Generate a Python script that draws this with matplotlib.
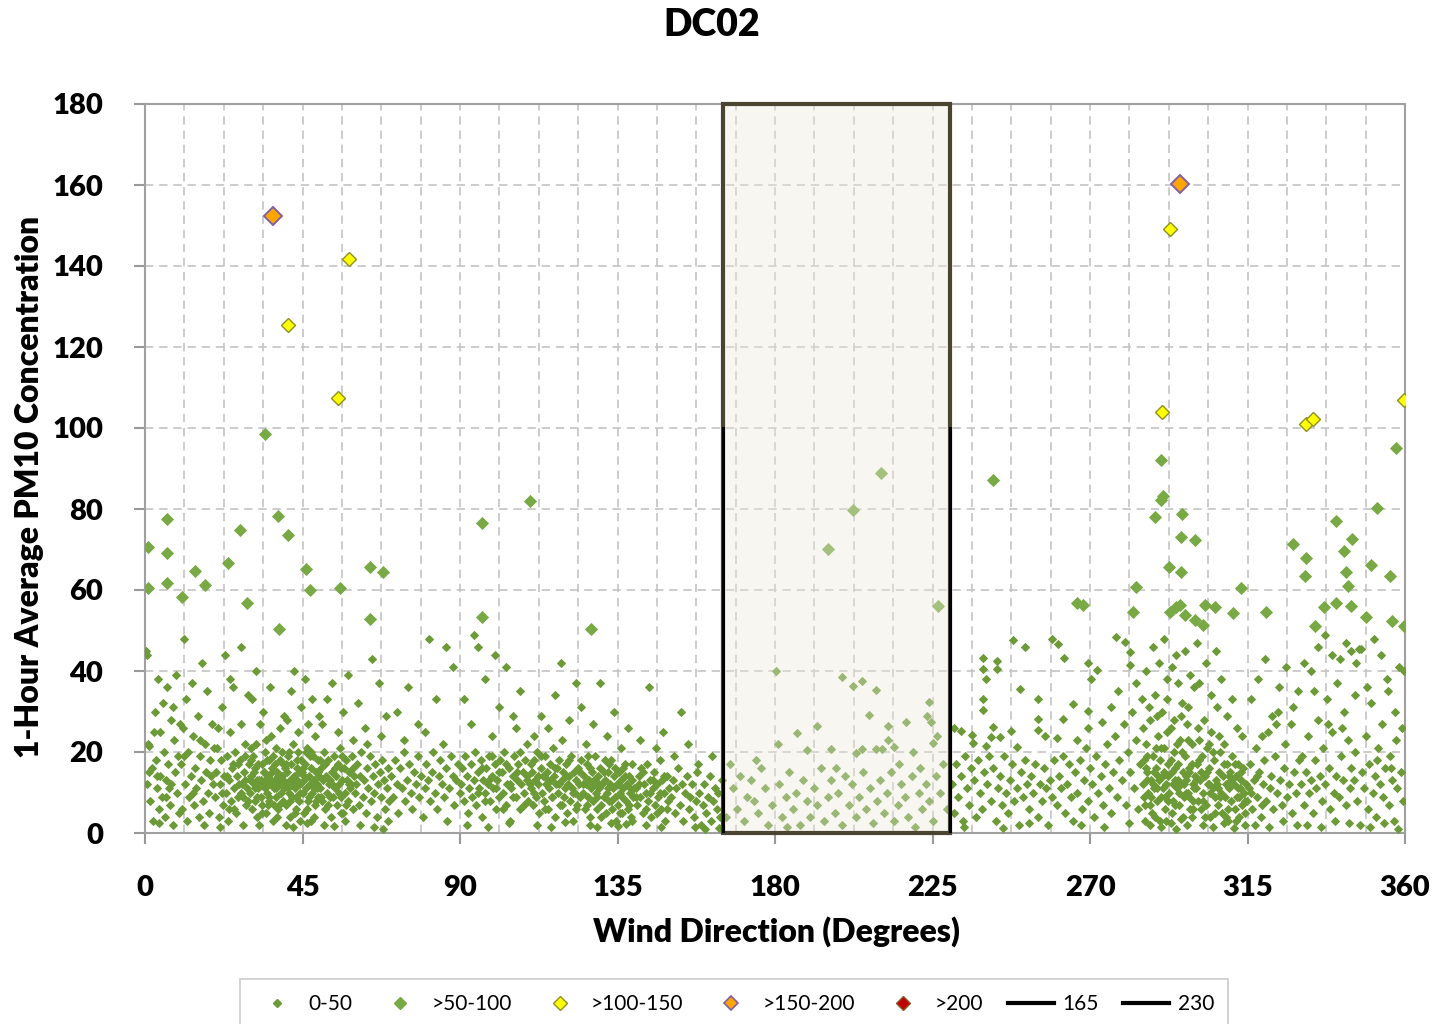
import matplotlib
matplotlib.use("Agg")
import matplotlib.pyplot as plt
from matplotlib.lines import Line2D
from matplotlib.patches import Rectangle

plt.rcParams['font.family'] = ['Lato', 'DejaVu Sans']

# ---------------- data ----------------
title = "DC02"
x_label = "Wind Direction (Degrees)"
y_label = "1-Hour Average PM10 Concentration"
x_ticks = [0, 45, 90, 135, 180, 225, 270, 315, 360]
y_ticks = [0, 20, 40, 60, 80, 100, 120, 140, 160, 180]
legend_labels = ["0-50", ">50-100", ">100-150", ">150-200", ">200", "165", "230"]
excluded_sector = [165, 230]   # wind directions of the shaded sector
sector_line_top = 100

# 0-50 concentration points, grouped by wind-direction band (degrees, conc.)
band_000_010 = [(0.5,12),(0.8,22),(1.2,21.5),(0.3,45),(0.6,44),(1.5,8),(2.1,16),(2.4,3),(2.8,30),(3.0,18),(3.3,11),(3.6,38),(3.9,6),(4.2,25),(4.4,14),(4.8,9),(5.1,32),(5.3,20),(5.7,4),(6.0,13),(6.4,36),(6.6,17),(7.0,7),(7.3,28),(7.5,12),(7.9,2),(8.2,23),(8.5,15),(8.8,39),(9.1,10),(9.4,19),(9.7,5),(1.1,15),(2.6,25),(4.0,2.5),(5.9,9),(8.0,31),(9.9,27),(6.9,11),(3.4,14)]
band_010_020 = [(10.2,17),(10.5,6),(10.8,26),(11.1,48),(11.4,12),(11.8,33),(12.0,3),(12.3,20),(12.6,9),(13.0,14),(13.3,37),(13.6,24),(14.0,7),(14.3,16),(14.6,11),(15.0,29),(15.3,4),(15.6,19),(16.0,13),(16.3,42),(16.6,8),(17.0,22),(17.3,15),(17.7,35),(18.0,10),(18.4,5),(18.7,18),(19.0,27),(19.4,12),(19.7,21),(11.0,19),(13.8,10),(16.8,2),(18.9,14),(15.8,23)]
band_020_030 = [(20.1,9),(20.4,15),(20.7,21),(21.0,4),(21.3,12),(21.6,18),(21.9,31),(22.2,7),(22.5,14),(22.8,44),(23.1,10),(23.4,19),(23.7,3),(24.0,13),(24.3,25),(24.6,8),(24.9,16),(25.2,36),(25.5,11),(25.8,20),(26.1,5),(26.4,14),(26.7,9),(27.0,18),(27.3,27),(27.6,12),(27.9,2),(28.2,15),(28.5,22),(28.8,7),(29.1,11),(29.4,34),(29.7,17),(20.9,26),(22.0,10),(23.9,6),(25.0,17),(26.9,12),(28.0,9),(29.9,13),(21.5,1.5),(24.4,38),(27.4,46),(28.7,19),(23.3,14)]
band_030_040 = [(30.0,10),(30.3,14),(30.5,6),(30.8,19),(31.0,12),(31.3,8),(31.5,16),(31.8,22),(32.0,4),(32.3,11),(32.5,13),(32.8,27),(33.0,9),(33.3,17),(33.5,7),(33.8,12),(34.0,15),(34.3,20),(34.5,5),(34.8,10),(35.0,14),(35.3,18),(35.5,8),(35.8,12),(36.0,24),(36.3,16),(36.5,3),(36.8,11),(37.0,13),(37.3,9),(37.5,21),(37.8,15),(38.0,6),(38.3,12),(38.5,18),(38.8,10),(39.0,14),(39.3,8),(39.5,17),(39.8,11),(30.6,33),(31.7,40),(32.7,2),(33.6,30),(34.6,23),(35.6,36),(36.6,19),(37.6,4),(38.6,26),(39.6,29),(31.2,15),(32.1,9),(33.1,13),(34.2,11),(35.1,7),(36.1,13),(37.1,17),(38.2,14),(39.1,20),(30.2,18)]
band_040_050 = [(40.0,12),(40.3,7),(40.5,15),(40.8,19),(41.0,10),(41.3,13),(41.5,4),(41.8,17),(42.0,9),(42.3,22),(42.5,14),(42.8,11),(43.0,6),(43.3,16),(43.5,13),(43.8,20),(44.0,8),(44.3,12),(44.5,18),(44.8,15),(45.0,10),(45.3,5),(45.5,13),(45.8,17),(46.0,11),(46.3,21),(46.5,8),(46.8,14),(47.0,12),(47.3,16),(47.5,3),(47.8,10),(48.0,19),(48.3,13),(48.5,7),(48.8,15),(49.0,11),(49.3,18),(49.5,9),(49.8,14),(40.6,28),(41.6,35),(42.6,40),(43.6,25),(44.6,31),(45.6,38),(46.6,27),(47.6,33),(48.6,24),(49.6,29),(40.2,2),(42.2,1.5),(44.2,3),(46.2,2.5),(48.2,4),(41.2,20),(43.2,9),(45.2,16),(47.2,19),(49.2,12)]
band_050_060 = [(50.0,11),(50.3,16),(50.6,8),(50.9,13),(51.2,20),(51.5,6),(51.8,14),(52.1,10),(52.4,18),(52.7,12),(53.0,4),(53.3,15),(53.6,9),(53.9,19),(54.2,11),(54.5,14),(54.8,7),(55.1,17),(55.4,12),(55.7,21),(56.0,9),(56.3,13),(56.6,5),(56.9,16),(57.2,10),(57.5,18),(57.8,13),(58.1,8),(58.4,15),(58.7,11),(59.0,19),(59.3,6),(59.6,14),(59.9,10),(50.5,27),(52.0,33),(53.5,37),(55.0,25),(56.5,30),(58.0,39),(59.5,23),(51.0,2),(54.0,1.8),(57.0,3),(52.9,9),(55.9,16),(58.9,12)]
band_060_070 = [(60.2,12),(60.6,17),(61.0,7),(61.4,14),(61.8,20),(62.2,9),(62.6,13),(63.0,5),(63.4,16),(63.8,11),(64.2,19),(64.6,8),(65.0,14),(65.4,10),(65.8,17),(66.2,4),(66.6,12),(67.0,15),(67.4,9),(67.8,18),(68.2,13),(68.6,6),(69.0,11),(69.4,16),(69.8,8),(60.9,32),(62.9,26),(64.9,43),(66.9,37),(68.9,29),(63.3,22),(67.5,24),(61.5,2),(65.5,1.5),(69.5,3),(68.0,1)]
band_070_090 = [(70.4,14),(70.9,9),(71.4,18),(71.9,12),(72.4,5),(72.9,16),(73.4,11),(73.9,20),(74.4,8),(74.9,13),(75.4,17),(75.9,10),(76.4,6),(76.9,15),(77.4,12),(77.9,19),(78.4,9),(78.9,14),(79.4,4),(79.9,11),(80.4,17),(80.9,13),(81.4,8),(81.9,15),(82.4,20),(82.9,10),(83.4,6),(83.9,14),(84.4,18),(84.9,12),(85.4,9),(85.9,16),(86.4,3),(86.9,11),(87.4,19),(87.9,14),(88.4,7),(88.9,13),(89.4,17),(89.9,10),(72.0,30),(75.0,36),(78.0,27),(81.0,48),(83.0,33),(86.0,46),(88.0,41),(74.0,23),(80.0,25),(85.0,22)]
band_090_110 = [(90.3,12),(90.7,16),(91.1,8),(91.5,19),(91.9,14),(92.3,5),(92.7,11),(93.1,17),(93.5,9),(93.9,13),(94.3,20),(94.7,7),(95.1,15),(95.5,11),(95.9,18),(96.3,4),(96.7,13),(97.1,10),(97.5,16),(97.9,12),(98.3,19),(98.7,8),(99.1,14),(99.5,11),(99.9,17),(100.3,6),(100.7,13),(101.1,9),(101.5,18),(101.9,15),(102.3,10),(102.7,20),(103.1,7),(103.5,12),(103.9,16),(104.3,3),(104.7,11),(105.1,14),(105.5,19),(105.9,9),(106.3,13),(106.7,17),(107.1,6),(107.5,12),(107.9,15),(108.3,10),(108.7,18),(109.1,14),(109.5,8),(109.9,12),(91.0,33),(93.0,27),(95.0,46),(97.0,38),(99.0,24),(101.0,31),(103.0,41),(105.0,29),(107.0,35),(109.0,22),(94.0,49),(100.0,44),(106.0,26),(92.0,2),(98.0,1.5),(104.0,2.5)]
band_110_125 = [(110.3,11),(110.6,15),(110.9,7),(111.2,18),(111.5,13),(111.8,9),(112.1,20),(112.4,12),(112.7,5),(113.0,16),(113.3,10),(113.6,14),(113.9,8),(114.2,19),(114.5,12),(114.8,15),(115.1,6),(115.4,11),(115.7,17),(116.0,13),(116.3,9),(116.6,21),(116.9,14),(117.2,4),(117.5,12),(117.8,16),(118.1,10),(118.4,18),(118.7,7),(119.0,13),(119.3,15),(119.6,9),(119.9,11),(120.2,17),(120.5,5),(120.8,12),(121.1,14),(121.4,8),(121.7,19),(122.0,11),(122.3,3),(122.6,15),(122.9,10),(123.2,13),(123.5,7),(123.8,16),(124.1,12),(124.4,9),(124.7,18),(111.0,24),(113.0,29),(115.0,26),(117.0,34),(119.0,23),(121.0,28),(123.0,37),(124.5,31),(112.0,2),(116.0,1.5),(120.0,2.8),(118.9,42)]
band_125_140 = [(125.0,10),(125.3,14),(125.6,6),(125.9,12),(126.2,17),(126.5,9),(126.8,13),(127.1,4),(127.4,11),(127.7,15),(128.0,8),(128.3,12),(128.6,19),(128.9,10),(129.2,6),(129.5,14),(129.8,11),(130.1,16),(130.4,7),(130.7,12),(131.0,9),(131.3,13),(131.6,5),(131.9,10),(132.2,15),(132.5,8),(132.8,12),(133.1,18),(133.4,6),(133.7,11),(134.0,14),(134.3,9),(134.6,3),(134.9,12),(135.2,7),(135.5,15),(135.8,10),(136.1,13),(136.4,5),(136.7,11),(137.0,17),(137.3,8),(137.6,12),(137.9,6),(138.2,14),(138.5,10),(138.8,4),(139.1,13),(139.4,9),(139.7,11),(126.0,22),(128.0,27),(130.0,37),(132.0,24),(134.0,30),(136.0,21),(138.0,26),(127.0,2),(129.0,1.5),(133.0,2.5),(135.0,1.8),(137.5,2.2),(139.0,3),(131.5,18),(136.5,16)]
band_140_150 = [(140.2,11),(140.6,7),(141.0,14),(141.4,9),(141.8,16),(142.2,5),(142.6,12),(143.0,10),(143.4,17),(143.8,8),(144.2,13),(144.6,4),(145.0,11),(145.4,15),(145.8,7),(146.2,12),(146.6,9),(147.0,18),(147.4,6),(147.8,13),(148.2,10),(148.6,3),(149.0,14),(149.4,8),(149.8,11),(141.5,23),(144.0,36),(146.0,21),(148.0,25),(143.0,2),(147.5,1.5)]
band_150_165 = [(150.3,9),(150.8,13),(151.3,5),(151.8,11),(152.3,16),(152.8,7),(153.3,12),(153.8,3),(154.3,10),(154.8,14),(155.3,6),(155.8,9),(156.3,12),(156.8,4),(157.3,8),(157.8,15),(158.3,10),(158.8,2),(159.3,7),(159.8,12),(160.3,5),(160.8,9),(161.3,14),(161.8,3),(162.3,8),(162.8,11),(163.3,6),(163.8,10),(164.3,4),(164.8,13),(151.0,19),(155.0,22),(158.0,17),(162.0,19),(153.0,30),(157.0,1.5),(160.0,1),(164.0,1.2)]
band_165_230 = [(180.3,40),(199,38.5),(202.3,36.3),(204.9,37.5),(208.9,35.3),(224,32.3),(223.4,29),(224.5,27.4),(206.9,29.1),(217.4,27.4),(212.3,26.4),(192,26.4),(186.3,24.7),(180.9,22),(189.1,20.5),(196,20.7),(203.1,19.7),(204.9,20.7),(208.9,20.7),(210.5,20.7),(212.3,23),(214,21.2),(219.4,20),(226.3,24),(225.1,22.2),(167,17),(168,11),(169,6),(170,14),(171,3),(172,9),(173,13),(174,8),(175,5),(176,16),(177,11),(178,2),(179,7),(181,12),(182,4),(183,9),(184,15),(185,6),(186,10),(187,2),(188,13),(189,8),(190,4),(191,11),(192,7),(193,16),(194,3),(195,9),(196,13),(197,5),(198,10),(199,2),(200,14),(201,7),(202,12),(203,4),(204,9),(205,15),(206,6),(207,11),(208,2.5),(209,8),(210,13),(211,5),(212,10),(213,15),(214,3),(215,7),(216,12),(217,9),(218,4),(219,14),(220,1.5),(221,10),(222,6),(223,12),(224,8),(225,3),(226,14),(227,10),(228,17),(229,6),(166,4),(174.5,18),(183.5,1.5),(197.5,16),(215.5,17),(221.5,16)]
band_230_260 = [(231.1,25.9),(233.1,25.2),(236.3,24.2),(236.6,22.2),(239.4,43.2),(243.4,42.5),(239.4,40.5),(243.4,40.5),(240.3,38),(239.4,33),(239.4,30.4),(241.7,23.7),(244.3,23.7),(240.3,21.5),(242.3,26.2),(247.4,25.2),(248,47.6),(250,35.6),(249.1,21.2),(251.4,46),(255.1,33),(255.1,28.1),(255.1,25.4),(257.1,24),(259,48),(260.9,46.6),(260.6,23.5),(230.5,12),(231,5),(231.8,17),(232.4,9),(233,14),(233.6,3),(234.2,19),(234.8,11),(235.4,7),(236,16),(236.8,13),(237.4,4),(238,18),(238.6,10),(239.2,6),(239.8,15),(240.5,12),(241.2,19),(241.8,8),(242.4,16),(243,3),(243.6,11),(244.2,14),(244.8,7),(245.4,19),(246,10),(246.6,5),(247.2,13),(247.8,17),(248.4,8),(249,11),(249.6,2),(250.2,15),(250.8,9),(251.4,18),(252,12),(252.6,6),(253.2,14),(253.8,10),(254.4,17),(255,4),(255.6,12),(256.2,8),(256.8,16),(257.4,11),(258,2),(258.6,13),(259.2,9),(259.8,18),(234,1.5),(245,1.2),(252.5,2.5)]
band_260_285 = [(262.6,43.2),(262.3,28.1),(265,31.9),(266.3,23),(269.4,42),(270.3,38),(269.4,30.1),(269.4,25.9),(272,40.2),(273.4,27.4),(277.4,48.4),(280,47.2),(281.4,44.7),(281.4,41.5),(260.5,7),(261,14),(261.6,11),(262.2,19),(262.8,5),(263.4,12),(264,17),(264.6,9),(265.2,3),(265.8,15),(266.4,10),(267,18),(267.6,6),(268.2,13),(268.8,21),(269.4,8),(270,16),(270.6,12),(271.2,4),(271.8,19),(272.4,10),(273,14),(273.6,7),(274.2,17),(274.8,22),(275.4,11),(276,5),(276.6,15),(277.2,24),(277.8,9),(278.4,18),(279,13),(279.6,27),(280.2,7),(280.8,20),(281.4,15),(282,30),(282.6,11),(283.2,23),(283.8,6),(284.4,17),(284.8,33),(278,35),(276,31),(283,37),(285,26),(274,1.5),(267.5,2),(281,2.5)]
band_285_300 = [(285.2,12),(285.5,18),(285.8,7),(286.1,22),(286.4,15),(286.7,10),(287.0,28),(287.3,13),(287.6,5),(287.9,19),(288.2,11),(288.5,34),(288.8,16),(289.1,8),(289.4,24),(289.7,13),(290.0,18),(290.3,9),(290.6,30),(290.9,14),(291.2,21),(291.5,6),(291.8,12),(292.1,38),(292.4,17),(292.7,10),(293.0,26),(293.3,15),(293.6,8),(293.9,20),(294.2,13),(294.5,44),(294.8,11),(295.1,17),(295.4,7),(295.7,23),(296.0,12),(296.3,32),(296.6,15),(296.9,9),(297.2,19),(297.5,13),(297.8,27),(298.1,10),(298.4,16),(298.7,6),(299.0,22),(299.3,12),(299.6,36),(299.9,14),(285.6,3),(287.1,2),(288.6,4),(290.2,1.5),(291.6,3),(293.1,2.5),(294.6,1),(296.1,3.5),(297.6,2),(299.1,4),(286.0,40),(288.0,46),(289.8,42),(291.0,48),(293.4,41),(295.0,37),(297.0,45),(298.5,39),(286.9,31),(289.0,29),(292.0,33),(294.0,28),(295.9,29),(298.0,31),(285.9,16),(287.5,9),(289.3,14),(290.8,11),(292.3,8),(293.8,12),(295.3,10),(296.8,12),(298.3,9),(299.8,11),(286.3,13),(288.0,12),(291.0,15),(294.2,16),(297.3,14),(299.2,17)]
band_300_315 = [(300.2,11),(300.5,17),(300.8,8),(301.1,23),(301.4,13),(301.7,6),(302.0,19),(302.3,10),(302.6,28),(302.9,14),(303.2,7),(303.5,21),(303.8,12),(304.1,16),(304.4,4),(304.7,25),(305.0,11),(305.3,18),(305.6,9),(305.9,13),(306.2,31),(306.5,7),(306.8,15),(307.1,20),(307.4,10),(307.7,5),(308.0,14),(308.3,22),(308.6,9),(308.9,12),(309.2,17),(309.5,3),(309.8,11),(310.1,15),(310.4,8),(310.7,19),(311.0,12),(311.3,6),(311.6,14),(311.9,9),(312.2,17),(312.5,4),(312.8,11),(313.1,13),(313.4,7),(313.7,16),(314.0,10),(314.3,5),(314.6,12),(314.9,8),(301.0,37),(303.0,42),(304.5,34),(306.0,45),(307.5,38),(309.0,29),(310.5,33),(312.0,26),(313.5,24),(300.6,47),(302.4,2),(305.2,1.5),(308.2,2.5),(311.2,1.2),(314.2,2),(301.8,15),(304.0,12),(306.6,11),(309.6,14),(312.6,9)]
band_315_330 = [(315.3,11),(315.8,17),(316.3,6),(316.8,13),(317.3,21),(317.8,9),(318.3,15),(318.8,4),(319.3,12),(319.8,18),(320.3,8),(320.8,25),(321.3,11),(321.8,14),(322.3,6),(322.8,19),(323.3,10),(323.8,30),(324.3,13),(324.8,7),(325.3,16),(325.8,22),(326.3,9),(326.8,12),(327.3,27),(327.8,5),(328.3,15),(328.8,10),(329.3,35),(329.8,18),(316.0,33),(318.0,38),(320.0,43),(322.0,29),(324.0,36),(326.0,41),(328.0,31),(317.0,2),(321.0,1.5),(325.0,3),(329.0,2),(319.0,24),(323.0,27)]
band_330_345 = [(330.2,12),(330.7,19),(331.2,7),(331.7,15),(332.2,24),(332.7,10),(333.2,13),(333.7,5),(334.2,18),(334.7,11),(335.2,28),(335.7,14),(336.2,8),(336.7,21),(337.2,12),(337.7,33),(338.2,16),(338.7,6),(339.2,25),(339.7,10),(340.2,14),(340.7,37),(341.2,9),(341.7,19),(342.2,13),(342.7,30),(343.2,7),(343.7,23),(344.2,11),(344.7,16),(331.0,42),(333.0,40),(335.0,46),(337.0,49),(339.0,44),(341.5,43),(343.0,47),(344.5,45),(332.0,2),(336.0,1.5),(340.0,3),(344.0,2.5),(334.0,35),(338.0,27),(342.0,26)]
band_345_360 = [(345.3,13),(345.8,20),(346.3,8),(346.8,45.4),(347.3,45.4),(347.8,15),(348.3,11),(348.8,24),(349.3,6),(349.8,17),(350.3,32),(350.8,10),(351.3,14),(351.8,4),(352.3,21),(352.8,12),(353.3,27),(353.8,9),(354.3,16),(354.8,38),(355.3,7),(355.8,19),(356.3,13),(356.8,3),(357.3,23),(357.8,11),(358.3,41),(358.8,15),(359.3,8),(359.7,40),(346.0,42),(349.0,36),(351.0,48),(353.0,44),(355.0,35),(357.0,30),(359.0,26),(347.0,2),(350.0,1.5),(354.0,2.5),(358.0,1),(352.0,18),(356.0,16),(345.8,34)]
# extra points in the densest clusters
dense_025_060 = [(25.5,6),(26.5,17),(27.5,10),(28.5,13),(29.5,8),(30.4,21),(31.4,11),(32.4,17),(33.4,5),(34.4,13),(35.4,9),(36.4,15),(37.4,11),(38.4,7),(39.4,13),(40.4,17),(41.4,8),(42.4,12),(43.4,18),(44.4,10),(45.4,14),(46.4,6),(47.4,20),(48.4,11),(49.4,15),(50.4,9),(51.4,17),(52.4,7),(53.4,12),(54.4,16),(55.4,10),(56.4,19),(57.4,7),(58.4,12),(59.4,16),(33.9,15),(36.9,7),(39.9,16),(42.9,5),(45.9,20),(48.9,8),(31.9,13),(34.9,18),(37.9,14),(40.9,11),(43.9,15),(46.9,9),(49.9,18),(52.9,13),(55.9,5)]
dense_095_150 = [(95.2,10),(96.2,16),(97.2,8),(98.2,13),(99.2,19),(100.2,11),(101.2,15),(102.2,6),(103.2,17),(104.2,12),(105.2,9),(106.2,15),(107.2,20),(108.2,7),(109.2,13),(110.2,17),(111.2,10),(112.2,14),(113.2,19),(114.2,6),(115.2,13),(116.2,9),(117.2,16),(118.2,12),(119.2,7),(120.2,14),(121.2,18),(122.2,10),(123.2,6),(124.2,15),(125.2,12),(126.2,7),(127.2,16),(128.2,13),(129.2,9),(130.2,4),(131.2,15),(132.2,11),(133.2,8),(134.2,16),(135.2,12),(136.2,9),(137.2,14),(138.2,7),(139.2,17),(140.2,9),(141.2,12),(142.2,15),(143.2,6),(144.2,10),(145.2,13),(146.2,5),(147.2,10),(148.2,14),(149.2,6),(126.6,19),(129.6,12),(132.6,17),(135.6,5),(138.6,11)]
dense_285_320 = [(285.4,9),(286.2,19),(287.2,7),(288.3,15),(289.2,11),(290.4,21),(291.3,9),(292.2,14),(293.2,18),(294.3,7),(295.2,13),(296.2,20),(297.3,10),(298.2,15),(299.4,8),(300.3,13),(301.2,18),(302.2,8),(303.3,15),(304.2,10),(305.2,20),(306.3,12),(307.2,9),(308.3,17),(309.3,6),(310.2,13),(311.4,17),(312.3,11),(313.2,15),(314.4,8),(316.1,10),(317.6,14),(319.1,7),(288.9,21),(291.9,25),(294.9,22),(297.9,23),(300.9,26),(303.9,22),(306.9,24),(290.1,3),(293.5,5),(296.5,4),(299.5,6),(302.8,4),(305.8,5),(308.8,4),(311.8,3)]

# >50-100
mid_dir = [0.9,0.9,6.3,6.3,6.3,10.6,14.3,17.1,23.7,27.1,29.1,34.3,38.0,40.9,46.0,47.1,38.3,55.7,64.3,68.0,64.3,96.3,96.3,110.0,127.4,195.1,202.3,210.3,226.6,242.3,266.3,268.0,283.1,282.3,290.3,290.9,290.3,288.6,292.6,292.9,294.6,296.3,296.0,296.0,300.0,295.7,297.1,300.0,302.9,305.7,302.3,310.9,313.1,320.3,328.0,331.7,331.4,334.3,340.3,342.6,343.1,344.9,343.7,340.3,336.9,344.6,348.9,352.0,350.3,355.7,356.3,359.7,357.4]
mid_conc = [70.6,60.5,77.5,69.1,61.7,58.3,64.7,61.2,66.7,74.8,56.8,98.5,78.3,73.6,65.2,60.0,50.4,60.5,65.7,64.4,52.8,76.5,53.3,82.0,50.4,70.1,79.8,88.9,56.0,87.2,56.8,56.3,60.7,54.6,92.1,83.2,82.2,78.0,65.7,54.6,55.8,78.8,73.0,64.4,72.3,56.3,53.8,52.6,56.3,55.8,51.4,54.3,60.5,54.6,71.4,67.9,63.5,51.1,77.0,69.6,64.4,72.6,61.0,56.8,55.8,56.0,53.3,80.2,66.2,63.5,52.3,51.1,95.1]

# >100-150
high_dir = [40.9, 58.3, 55.1, 292.9, 290.6, 331.7, 333.7, 359.7]
high_conc = [125.4, 141.7, 107.4, 149.1, 104.0, 101.0, 102.2, 106.9]

# >150-200
vhigh_dir = [36.6, 295.7]
vhigh_conc = [152.3, 160.2]

# >200 (none observed)
ext_dir = []
ext_conc = []

# ---------------- build ----------------
low_pts = (band_000_010 + band_010_020 + band_020_030 + band_030_040 + band_040_050 +
           band_050_060 + band_060_070 + band_070_090 + band_090_110 + band_110_125 +
           band_125_140 + band_140_150 + band_150_165 + band_165_230 + band_230_260 +
           band_260_285 + band_285_300 + band_300_315 + band_315_330 + band_330_345 +
           band_345_360 + dense_025_060 + dense_095_150 + dense_285_320)
low_dir = [p[0] for p in low_pts]
low_conc = [p[1] for p in low_pts]

W, H = 1441, 1024
fig = plt.figure(figsize=(W / 100, H / 100), dpi=100)
ax = fig.add_axes([145 / W, 1 - 833 / H, (1405 - 145) / W, (833 - 104) / H])

green_s = '#6b9a36'
green_m = '#78a944'

ax.plot(low_dir, low_conc, linestyle='none', marker='D', ms=3.9,
        mfc=green_s, mec=green_s, mew=0.7, zorder=3)
ax.plot(mid_dir, mid_conc, linestyle='none', marker='D', ms=6.2,
        mfc=green_m, mec=green_m, mew=0.6, zorder=4)
ax.plot(high_dir, high_conc, linestyle='none', marker='D', ms=7.0,
        mfc='#ffff00', mec='#8f8f1f', mew=1.0, zorder=5)
ax.plot(vhigh_dir, vhigh_conc, linestyle='none', marker='D', ms=9.0,
        mfc='#ffa500', mec='#7e60a8', mew=1.4, zorder=5)
ax.plot(ext_dir, ext_conc, linestyle='none', marker='D', ms=7.0,
        mfc='#c00000', mec='#8b5a2b', mew=1.0, zorder=5)

# shaded sector
rect = Rectangle((excluded_sector[0], 0), excluded_sector[1] - excluded_sector[0], 180,
                 facecolor='#ece8dc', alpha=0.38, edgecolor='none', zorder=6)
ax.add_patch(rect)
rect_edge = Rectangle((excluded_sector[0], 0), excluded_sector[1] - excluded_sector[0], 180,
                      facecolor='none', edgecolor='#4a4530', lw=3.0, zorder=7,
                      clip_on=False)
ax.add_patch(rect_edge)
for xd in excluded_sector:
    ax.plot([xd, xd], [0, sector_line_top], color='black', lw=2.2, zorder=7)

ax.set_xlim(0, 360)
ax.set_ylim(0, 180)
ax.set_xticks(x_ticks)
ax.set_xticks([v * 11.25 for v in range(33)], minor=True)
ax.set_yticks(y_ticks)
ax.tick_params(axis='x', which='major', length=8, width=1.5, color='#999999',
               direction='out', pad=22, labelsize=21)
ax.tick_params(axis='x', which='minor', length=0)
ax.tick_params(axis='y', which='major', length=8, width=1.5, color='#999999',
               direction='out', pad=22, labelsize=21)
for lab in ax.get_xticklabels() + ax.get_yticklabels():
    lab.set_fontweight('heavy')

ax.grid(True, which='both', axis='x', color='#c4c4c4', lw=1.2, linestyle=(0, (5, 3.5)))
ax.grid(True, which='major', axis='y', color='#c4c4c4', lw=1.2, linestyle=(0, (5, 3.5)))
ax.set_axisbelow(True)
for sp in ax.spines.values():
    sp.set_color('#a0a0a0')
    sp.set_linewidth(1.5)

fig.text(712 / W, 1 - 25 / H, title, ha='center', va='center', fontsize=27, fontweight='heavy')
fig.text(776 / W, 1 - 932 / H, x_label, ha='center', va='center', fontsize=23, fontweight='heavy')
fig.text(30 / W, 1 - 487 / H, y_label, ha='center', va='center', fontsize=23,
         fontweight='heavy', rotation=90)

handles = [
    Line2D([], [], linestyle='none', marker='D', ms=3.9, mfc=green_s, mec=green_s),
    Line2D([], [], linestyle='none', marker='D', ms=6.2, mfc=green_m, mec=green_m),
    Line2D([], [], linestyle='none', marker='D', ms=7.0, mfc='#ffff00', mec='#8f8f1f', mew=1.0),
    Line2D([], [], linestyle='none', marker='D', ms=7.0, mfc='#ffa500', mec='#7e60a8', mew=1.2),
    Line2D([], [], linestyle='none', marker='D', ms=7.0, mfc='#c00000', mec='#8b5a2b', mew=1.0),
    Line2D([], [], color='black', lw=3),
    Line2D([], [], color='black', lw=3),
]
leg = fig.legend(handles, legend_labels, loc='upper center',
                 bbox_to_anchor=(734 / W, 1 - 969 / H), ncol=7, frameon=True,
                 fancybox=False, edgecolor='#bfbfbf', fontsize=15,
                 handlelength=2.2, handletextpad=0.4, columnspacing=1.2,
                 borderpad=0.7)
leg.get_frame().set_linewidth(1.2)

fig.savefig('out.png', dpi=100)
